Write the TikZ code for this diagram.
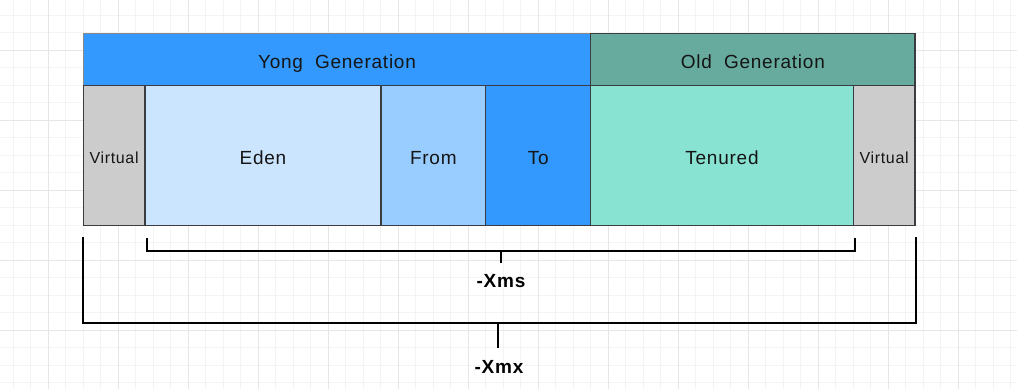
\documentclass[tikz,border=0pt]{standalone}
\usepackage{fontspec}
\setmainfont{Liberation Sans}[LetterSpace=4]
\definecolor{gridminor}{HTML}{F4F4F4}
\definecolor{gridmajor}{HTML}{E6E6E6}
\definecolor{stroke}{HTML}{3A3C40}
\definecolor{hdrstroke}{HTML}{8A8A8A}
\definecolor{yongc}{HTML}{3399FF}
\definecolor{oldc}{HTML}{67AB9F}
\definecolor{virtc}{HTML}{CCCCCC}
\definecolor{edenc}{HTML}{CCE5FF}
\definecolor{fromc}{HTML}{99CCFF}
\definecolor{toc}{HTML}{3399FF}
\definecolor{tenc}{HTML}{88E3D3}
\definecolor{txt}{HTML}{151515}
\tikzset{
  box/.style={draw=stroke, line width=1.3pt, rectangle, inner sep=0pt, outer sep=0pt,
    anchor=north west, text=txt, font=\fontsize{19}{21}\selectfont,
    text height=17.4pt, text depth=0pt},
  vbox/.style={box, fill=virtc, font=\fontsize{16}{18}\selectfont, text height=14.6pt},
  brk/.style={draw=black, line width=2pt},
  lbl/.style={font=\fontsize{19}{21}\selectfont\bfseries, text=black, inner sep=0pt}
}
\begin{document}
\begin{tikzpicture}[x=1pt,y=-1pt]
\useasboundingbox (0,0) rectangle (1017,389);
\fill[white] (0,0) rectangle (1017,389);
% grid
\foreach \i in {0,...,58} {
  \draw[gridminor, line width=0.8pt] ({13.3+17.5*\i},0) -- ({13.3+17.5*\i},389);
}
\foreach \j in {0,...,23} {
  \draw[gridminor, line width=0.8pt] (0,{-2.5+17.5*\j}) -- (1017,{-2.5+17.5*\j});
}
\foreach \i in {0,...,14} {
  \draw[gridmajor, line width=1pt] ({48.3+70*\i},0) -- ({48.3+70*\i},389);
}
\foreach \j in {0,...,5} {
  \draw[gridmajor, line width=1pt] (0,{50+70*\j}) -- (1017,{50+70*\j});
}
% headers
\node[box, draw=hdrstroke, fill=yongc, minimum width=507.4pt, minimum height=52.4pt] (yong) at (83.3,33.3) {Yong\ \ Generation};
\node[box, fill=oldc, minimum width=324.3pt, minimum height=52.4pt] (old) at (590.7,33.3) {Old\ \ Generation};
% body
\node[vbox, minimum width=61.7pt, minimum height=140pt] (virtl) at (83.3,85.7) {Virtual};
\node[box, fill=edenc, minimum width=236pt, minimum height=140pt] (eden) at (145,85.7) {Eden};
\node[box, fill=fromc, minimum width=104.7pt, minimum height=140pt] (from) at (381,85.7) {From};
\node[box, fill=toc, minimum width=105pt, minimum height=140pt] (to) at (485.7,85.7) {To};
\node[box, fill=tenc, minimum width=262.6pt, minimum height=140pt] (tenured) at (590.7,85.7) {Tenured};
\node[vbox, minimum width=61.7pt, minimum height=140pt] (virtr) at (853.3,85.7) {Virtual};
% brackets
\coordinate (msl) at (146.7,238.3);
\coordinate (msr) at (855.3,238.3);
\coordinate (msm) at (501,251);
\coordinate (mst) at (501,263.3);
\node[lbl] (xms) at (501,281) {-Xms};
\draw[brk] (msl) |- (msm) -| (msr);
\draw[brk] (msm) -- (mst);
\coordinate (mxl) at (82.7,237.3);
\coordinate (mxr) at (915.7,237.3);
\coordinate (mxm) at (497.7,322.7);
\coordinate (mxt) at (497.7,347.7);
\node[lbl] (xmx) at (499,367) {-Xmx};
\draw[brk] (mxl) |- (mxm) -| (mxr);
\draw[brk] (mxm) -- (mxt);
\end{tikzpicture}
\end{document}
